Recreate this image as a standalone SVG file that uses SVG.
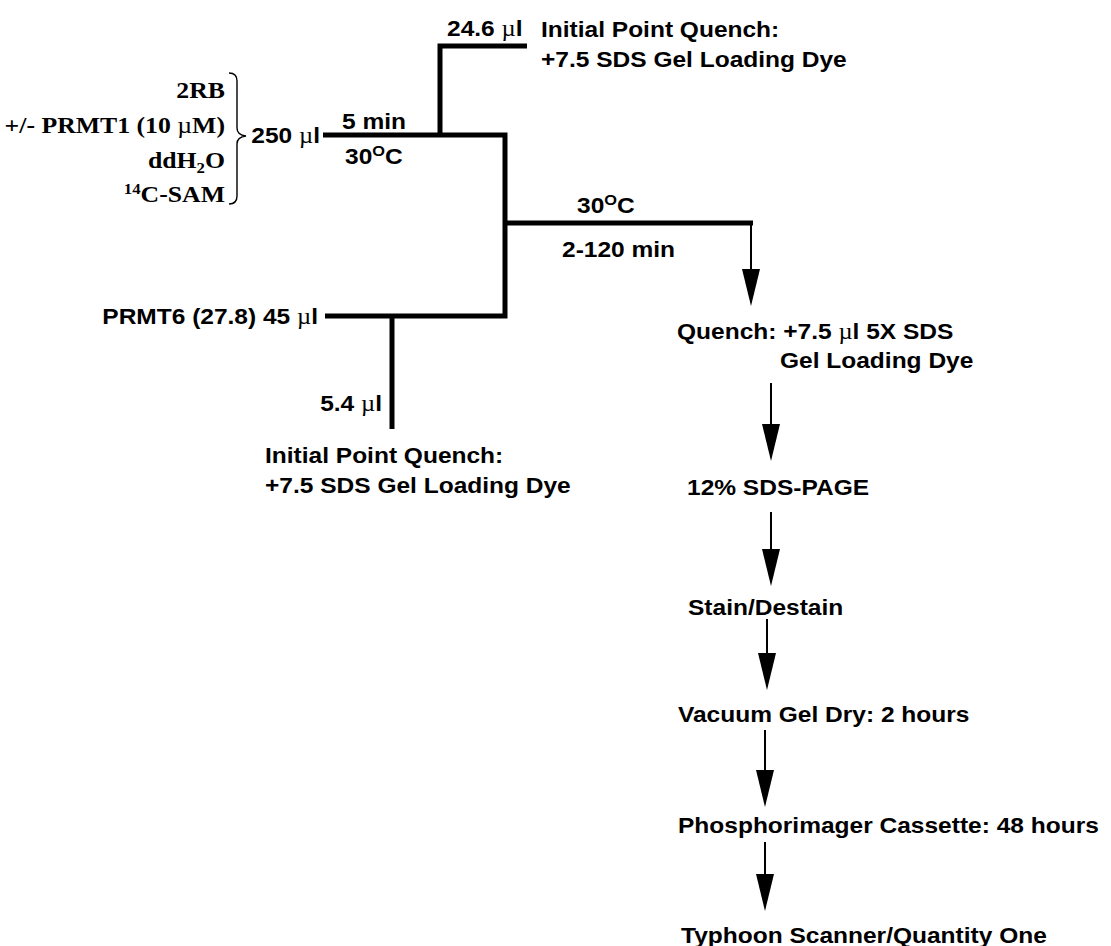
<svg xmlns="http://www.w3.org/2000/svg" width="1111" height="946" viewBox="0 0 1111 946">
<style>
.h{font-family:"Liberation Sans",Arial,sans-serif;font-weight:bold;font-size:22.5px;fill:#000}
.t{font-family:"Liberation Serif","Times New Roman",serif;font-weight:bold;font-size:23px;fill:#000}
.mu{font-family:"Liberation Serif","Times New Roman",serif;font-weight:normal}
.e{text-anchor:end}
.thick{fill:none;stroke:#000;stroke-width:5;stroke-linejoin:miter;stroke-linecap:butt}
.thin{fill:none;stroke:#000;stroke-width:2}
.brace{fill:none;stroke:#000;stroke-width:1.4}
</style>
<defs>
<marker id="ah" markerUnits="userSpaceOnUse" viewBox="0 0 37 18" markerWidth="37" markerHeight="18" refX="17" refY="9" orient="auto">
<path d="M0,0 L37,9 L0,18 Z" fill="#000"/>
</marker>
</defs>

<g id="connectors">
<path class="thick" d="M323,135 H505 V316 H325"/>
<path class="thick" d="M440,135 V46 H527"/>
<path class="thick" d="M505,223 H753"/>
<path class="thick" d="M392,316 V429"/>
<path class="thin" d="M751,221 V286" marker-end="url(#ah)"/>
<path class="thin" d="M771,383 V441" marker-end="url(#ah)"/>
<path class="thin" d="M771,512 V566" marker-end="url(#ah)"/>
<path class="thin" d="M767,619 V670" marker-end="url(#ah)"/>
<path class="thin" d="M765,730 V787" marker-end="url(#ah)"/>
<path class="thin" d="M765,842 V891" marker-end="url(#ah)"/>
</g>

<g id="reagents">
<text class="t e" transform="translate(225,98) scale(1.12,1)">2RB</text>
<text class="t e" transform="translate(225,133) scale(1.12,1)">+/- PRMT1 (10 <tspan class="mu">µ</tspan>M)</text>
<text class="t e" transform="translate(225,168) scale(1.12,1)">ddH<tspan font-size="15" dy="5">2</tspan><tspan dy="-5">O</tspan></text>
<text class="t e" transform="translate(225,202) scale(1.12,1)"><tspan font-size="15" dy="-8">14</tspan><tspan dy="8">C-SAM</tspan></text>
<path class="brace" d="M229,73 Q237,73 237,81 V128 Q237,135 246,136 Q237,137 237,144 V196 Q237,204 229,204"/>
</g>

<g id="mix">
<text class="h e" transform="translate(320,143) scale(1.09,1)">250 <tspan class="mu">µ</tspan>l</text>
<text class="h" transform="translate(342,129) scale(1.09,1)">5 min</text>
<text class="h" transform="translate(345,164) scale(1.09,1)">30<tspan font-size="15" dy="-8">O</tspan><tspan dy="8">C</tspan></text>
</g>

<g id="initial-top">
<text class="h" transform="translate(447,36) scale(1.09,1)">24.6 <tspan class="mu">µ</tspan>l</text>
<text class="h" transform="translate(541,37) scale(1.09,1)">Initial Point Quench:</text>
<text class="h" transform="translate(541,67) scale(1.09,1)">+7.5 SDS Gel Loading Dye</text>
</g>

<g id="incubation">
<text class="h" transform="translate(577,213) scale(1.09,1)">30<tspan font-size="15" dy="-8">O</tspan><tspan dy="8">C</tspan></text>
<text class="h" transform="translate(562,257) scale(1.09,1)">2-120 min</text>
</g>

<g id="prmt6">
<text class="h e" transform="translate(318,324) scale(1.09,1)">PRMT6 (27.8) 45 <tspan class="mu">µ</tspan>l</text>
</g>

<g id="initial-bottom">
<text class="h e" transform="translate(382,411) scale(1.09,1)">5.4 <tspan class="mu">µ</tspan>l</text>
<text class="h" transform="translate(265,463) scale(1.09,1)">Initial Point Quench:</text>
<text class="h" transform="translate(265,493) scale(1.09,1)">+7.5 SDS Gel Loading Dye</text>
</g>

<g id="quench">
<text class="h" transform="translate(677,339) scale(1.09,1)">Quench: +7.5 <tspan class="mu">µ</tspan>l 5X SDS</text>
<text class="h" transform="translate(780,368) scale(1.09,1)">Gel Loading Dye</text>
</g>

<g id="sds-page">
<text class="h" transform="translate(687,495) scale(1.09,1)">12% SDS-PAGE</text>
</g>

<g id="stain">
<text class="h" transform="translate(688,615) scale(1.09,1)">Stain/Destain</text>
</g>

<g id="gel-dry">
<text class="h" transform="translate(678,722) scale(1.09,1)">Vacuum Gel Dry: 2 hours</text>
</g>

<g id="phosphorimager">
<text class="h" transform="translate(678,833) scale(1.09,1)">Phosphorimager Cassette: 48 hours</text>
</g>

<g id="typhoon">
<text class="h" transform="translate(681,943) scale(1.09,1)">Typhoon Scanner/Quantity One</text>
</g>
</svg>
